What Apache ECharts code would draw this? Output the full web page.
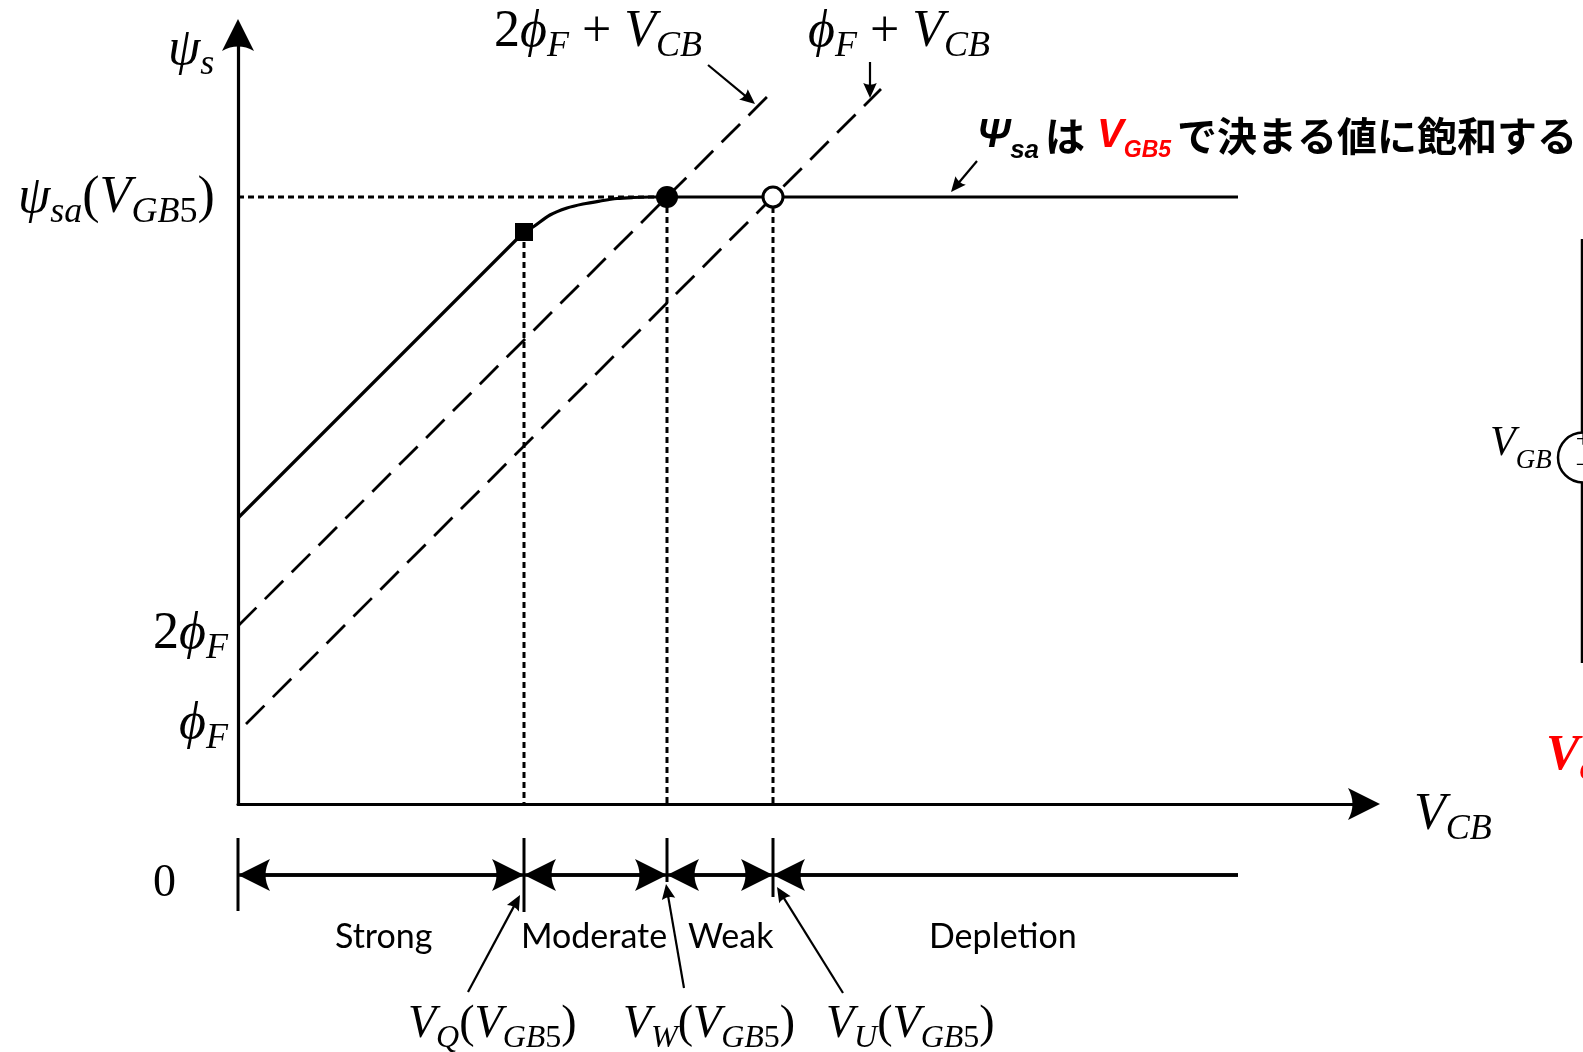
<!DOCTYPE html>
<html><head><meta charset="utf-8">
<script src="https://cdn.jsdelivr.net/npm/echarts@6/dist/echarts.min.js"></script>
<style>html,body{margin:0;padding:0;background:#fff;overflow:hidden}#c{width:1583px;height:1052px}</style>
</head><body><div id="c"></div>
<script>
// ---- data (schematic units: 1 unit on either axis) ----
const psiSa = 60.7;                       // ψsa(VGB5)
const regionEdges = [0, 28.6, 42.9, 53.5, 100]; // 0, VQ, VW, VU, end
const regionNames = ['Strong', 'Moderate', 'Weak', 'Depletion'];
const strongLine = [[0, 28.6], [28.6, 57.2]];
const transitionCurve = [[28.6, 57.2], [29.5, 57.7], [31.2, 58.9], [32.9, 59.6], [34.5, 60.0],
  [36.2, 60.3], [37.9, 60.55], [39.5, 60.65], [41.2, 60.7], [42.9, 60.7]];
const saturationLine = [[42.9, 60.7], [100, 60.7]];
const twoPhiLine = [[0, 17.8], [53.6, 71.4]];   // 2φF + VCB
const phiLine = [[0.8, 8.0], [64.3, 71.5]];     // φF + VCB
const squarePoint = [[28.6, 57.2]];
const filledPoint = [[42.9, 60.7]];
const openPoint = [[53.5, 60.7]];
const rangeLevel = -7.1;
const tickTop = -3.4;
const tickBottoms = [-10.7, -10.8, -7.8, -9.3];
const annotationArrows = [ // [from, tip]
  [[47.0, 73.9], [51.7, 70.0]],
  [[63.2, 74.2], [63.2, 70.6]],
  [[73.9, 64.3], [71.3, 61.2]],
  [[23.0, -18.8], [28.2, -9.1]],
  [[44.6, -18.4], [42.8, -8.0]],
  [[60.5, -18.9], [53.9, -8.3]]
];
const circuitWireTop = [[134.4, 56.5], [134.4, 37.2]];
const circuitWireBottom = [[134.4, 32.1], [134.4, 14.1]];
const circuitSource = [[134.5, 34.65]];

// ---- helpers ----
const BIG = 'path://M50,0 L100,100 Q50,72 0,100 Z';
const SMALL = 'path://M50,0 L95,100 Q50,78 5,100 Z';
function shorten(from, tip, d) {
  const dx = tip[0] - from[0], dy = tip[1] - from[1], L = Math.hypot(dx, dy);
  return [tip[0] - dx / L * d, tip[1] - dy / L * d];
}
const black = '#000';
function lineSeries(data, style, extra) {
  return Object.assign({
    type: 'line', data: data, symbol: 'none', clip: false, silent: true, animation: false,
    lineStyle: Object.assign({color: black, width: 3.2, cap: 'butt', opacity: 1}, style)
  }, extra || {});
}
function scatterSeries(data, symbol, size, itemStyle, extra) {
  return Object.assign({type: 'scatter', data: data, symbol: symbol, symbolSize: size, z: 5,
    itemStyle: Object.assign({opacity: 1}, itemStyle), silent: true, animation: false}, extra);
}
const g1 = {xAxisIndex: 0, yAxisIndex: 0};
const g2 = {xAxisIndex: 1, yAxisIndex: 1};
const dotted = {type: [6, 4], width: 3};
const dashed = {type: [26, 12], width: 2.8};

const series = [];
series.push(lineSeries(strongLine, {}, g1));
series.push(lineSeries(transitionCurve, {}, Object.assign({smooth: 0.3}, g1)));
series.push(lineSeries(saturationLine, {}, g1));
series.push(lineSeries(twoPhiLine, dashed, g1));
series.push(lineSeries(phiLine, dashed, g1));
series.push(lineSeries([[0, psiSa], [regionEdges[2], psiSa]], dotted, g1));
series.push(lineSeries([[regionEdges[1], squarePoint[0][1]], [regionEdges[1], 0]], dotted, g1));
series.push(lineSeries([[regionEdges[2], psiSa], [regionEdges[2], 0]], dotted, g1));
series.push(lineSeries([[regionEdges[3], psiSa], [regionEdges[3], 0]], dotted, g1));
series.push(scatterSeries(squarePoint, 'rect', 18, {color: black}, g1));
series.push(scatterSeries(filledPoint, 'circle', 22, {color: black}, g1));
series.push(scatterSeries(openPoint, 'circle', 20, {color: '#fff', borderColor: black, borderWidth: 3}, g1));

// bottom range bar
const rangeBoth = [];
for (let i = 0; i < 3; i++) {
  rangeBoth.push([{coord: [regionEdges[i] + 1.6, rangeLevel]}, {coord: [regionEdges[i + 1] - 1.6, rangeLevel]}]);
}
const mlBase = {silent: true, animation: false, symbolKeepAspect: true, label: {show: false},
  itemStyle: {color: black, opacity: 1}, emphasis: {disabled: true}};
series.push(lineSeries([[regionEdges[0], rangeLevel], [regionEdges[4], rangeLevel]], {width: 3.5}, Object.assign({
  markLine: Object.assign({}, mlBase, {symbol: [BIG, BIG], symbolSize: 32,
    lineStyle: {type: 'solid', color: black, width: 3.5, opacity: 1}, data: rangeBoth})
}, g2)));
series.push(lineSeries([], {}, Object.assign({
  markLine: Object.assign({}, mlBase, {symbol: [BIG, 'none'], symbolSize: 32,
    lineStyle: {type: 'solid', color: black, width: 3.5, opacity: 1},
    data: [[{coord: [regionEdges[3] + 1.6, rangeLevel]}, {coord: [regionEdges[4], rangeLevel]}]]})
}, g2)));
for (let i = 0; i < 4; i++) {
  series.push(lineSeries([[regionEdges[i], tickTop], [regionEdges[i], tickBottoms[i]]], {width: 3}, g2));
}
// annotation arrows
series.push(lineSeries([], {}, Object.assign({
  markLine: Object.assign({}, mlBase, {symbol: ['none', SMALL], symbolSize: 15,
    lineStyle: {type: 'solid', color: black, width: 2.2, opacity: 1},
    data: annotationArrows.map(a => [{coord: a[0]}, {coord: shorten(a[0], a[1], 0.75)}])})
}, g2)));
// circuit fragment at right edge
series.push(lineSeries(circuitWireTop, {width: 2.5}, g2));
series.push(lineSeries(circuitWireBottom, {width: 2.5}, g2));
series.push(scatterSeries(circuitSource, 'circle', 50, {color: '#fff', borderColor: black, borderWidth: 2.5}, g2));

// ---- text ----
const SERIF = '"Liberation Serif", "DejaVu Serif", serif';
const mathRich = {
  m: {font: 'italic 52px ' + SERIF, lineHeight: 64, fill: black},
  u: {font: '52px ' + SERIF, lineHeight: 64, fill: black},
  s: {font: 'italic 36px ' + SERIF, lineHeight: 64, padding: [29, 0, 0, 0], fill: black},
  su: {font: '36px ' + SERIF, lineHeight: 64, padding: [29, 0, 0, 0], fill: black},
  bm: {font: 'italic 46px ' + SERIF, lineHeight: 60, fill: black},
  bu: {font: '46px ' + SERIF, lineHeight: 60, fill: black},
  bs: {font: 'italic 32px ' + SERIF, lineHeight: 60, padding: [27, 0, 0, 0], fill: black},
  bsu: {font: '32px ' + SERIF, lineHeight: 60, padding: [27, 0, 0, 0], fill: black},
  z: {font: '46px ' + SERIF, lineHeight: 60, fill: black},
  gv: {font: 'italic 42px ' + SERIF, lineHeight: 60, fill: black},
  gs: {font: 'italic 27px ' + SERIF, lineHeight: 60, padding: [34, 0, 0, 0], fill: black},
  rv: {font: 'italic bold 50px ' + SERIF, lineHeight: 60, fill: '#ff0000'},
  rs: {font: 'italic bold 30px ' + SERIF, lineHeight: 60, padding: [32, 0, 0, 0], fill: '#ff0000'},
  pm: {font: '26px ' + SERIF, lineHeight: 30, fill: black},
  P: {font: 'italic bold 40px "Liberation Sans", sans-serif', lineHeight: 50, fill: black},
  Ps: {font: 'italic bold 26px "Liberation Sans", sans-serif', lineHeight: 50, padding: [29, 0, 0, 0], fill: black},
  j: {font: 'bold 40px "Noto Sans CJK JP", sans-serif', lineHeight: 50, fill: black},
  R: {font: 'italic bold 40px "Liberation Sans", sans-serif', lineHeight: 50, fill: '#ff0000'},
  Rs: {font: 'italic bold 23px "Liberation Sans", sans-serif', lineHeight: 50, padding: [29, 0, 0, 0], fill: '#ff0000'},
  g6: {font: '12px sans-serif', lineHeight: 50, width: 6},
  g12: {font: '12px sans-serif', lineHeight: 50, width: 12}
};
function txt(x, y, text, align) {
  align = align || 'left';
  return {type: 'text', x: x, y: y, silent: true, z: 10,
    style: {text: text, rich: mathRich, align: align, verticalAlign: 'middle',
      textAlign: align, textVerticalAlign: 'middle', fill: black}};
}
function sans(x, y, text) {
  return {type: 'text', x: x, y: y, silent: true, z: 10,
    style: {text: text, font: '34px Lato, "Open Sans", sans-serif', fill: black,
      align: 'left', verticalAlign: 'middle', textAlign: 'left', textVerticalAlign: 'middle'}};
}
const NB = '\u00a0';
const graphics = [
  txt(168, 50, '{m|ψ}{s|s}'),
  txt(494, 32, '{u|2}{m|ϕ}{s|F}{u| + }{m|V}{s|CB}'),
  txt(808, 32, '{m|ϕ}{s|F}{u| + }{m|V}{s|CB}'),
  txt(18, 198, '{m|ψ}{s|sa}{u|(}{m|V}{s|GB}{su|5}{u|)}'),
  txt(228, 634, '{u|2}{m|ϕ}{s|F}', 'right'),
  txt(228, 724, '{m|ϕ}{s|F}', 'right'),
  txt(153, 884, '{z|0}'),
  txt(1414, 815, '{m|V}{s|CB}'),
  txt(408, 1025, '{bm|V}{bs|Q}{bu|(}{bm|V}{bs|GB}{bsu|5}{bu|)}'),
  txt(623, 1025, '{bm|V}{bs|W}{bu|(}{bm|V}{bs|GB}{bsu|5}{bu|)}'),
  txt(826, 1025, '{bm|V}{bs|U}{bu|(}{bm|V}{bs|GB}{bsu|5}{bu|)}'),
  txt(977, 136, '{P|Ψ}{Ps|sa}{g6|' + NB + '}{j|は}{g12|' + NB + '}{R|V}{Rs|GB5}{g6|' + NB + '}{j|で決まる値に飽和する}'),
  txt(1490, 444, '{gv|V}{gs|GB}'),
  txt(1546, 756, '{rv|V}{rs|GB5}'),
  txt(1583, 440, '{pm|+}', 'center'),
  txt(1583, 466, '{pm|−}', 'center'),
  sans(335, 937, regionNames[0]),
  sans(521, 937, regionNames[1]),
  sans(688, 937, regionNames[2]),
  sans(929, 937, regionNames[3])
];

const chart = echarts.init(document.getElementById('c'), null, {renderer: 'canvas'});
const hiddenAxis = {show: false};
chart.setOption({
  backgroundColor: '#fff',
  animation: false,
  grid: [
    {left: 238, top: 35, width: 1126, height: 769},
    {left: 238, top: 35, width: 1345, height: 1017}
  ],
  xAxis: [
    {type: 'value', gridIndex: 0, min: 0, max: 112.6, splitLine: {show: false}, axisTick: {show: false},
      axisLabel: {show: false},
      axisLine: {show: true, onZero: false, symbol: ['none', BIG], symbolSize: [32, 32],
        lineStyle: {color: black, width: 3.2}}},
    Object.assign({type: 'value', gridIndex: 1, min: 0, max: 134.5}, hiddenAxis)
  ],
  yAxis: [
    {type: 'value', gridIndex: 0, min: 0, max: 76.9, splitLine: {show: false}, axisTick: {show: false},
      axisLabel: {show: false},
      axisLine: {show: true, onZero: false, symbol: ['none', BIG], symbolSize: [32, 32],
        lineStyle: {color: black, width: 3.2}}},
    Object.assign({type: 'value', gridIndex: 1, min: -24.8, max: 76.9}, hiddenAxis)
  ],
  series: series,
  graphic: graphics
});
</script></body></html>
